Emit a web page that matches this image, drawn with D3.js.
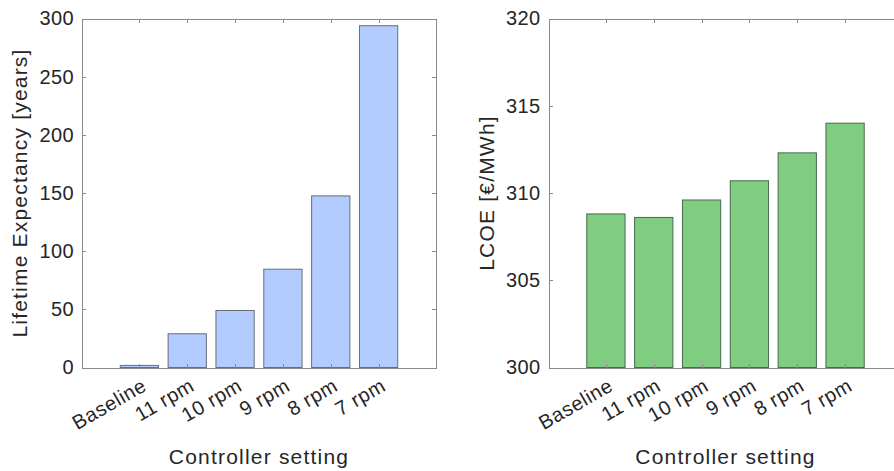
<!DOCTYPE html>
<html>
<head>
<meta charset="utf-8">
<script src="https://cdn.jsdelivr.net/npm/d3@7"></script>
<style>
  html, body { margin: 0; padding: 0; background: #fff; }
  svg { display: block; }
  text { font-family: "Liberation Sans", Arial, Helvetica, sans-serif; fill: #262626; }
</style>
</head>
<body>
<script>
// Controller settings and the two results per setting
const categories = ["Baseline", "11 rpm", "10 rpm", "9 rpm", "8 rpm", "7 rpm"];
const lifetimeYears = [1.8, 29, 49, 84.5, 147.5, 293.8];
const lcoeValues = [308.8, 308.6, 309.6, 310.7, 312.3, 314.0];
const lifetimeTicks = [0, 50, 100, 150, 200, 250, 300];
const lcoeTicks = [300, 305, 310, 315, 320];

const W = 894, H = 471;
const svg = d3.select("body").append("svg").attr("width", W).attr("height", H);

const axisColor = "#8a8a8a";

function panel(opts) {
  const { left, right, top, bottom, yDomain, ticks, values, fill, stroke, yLabel, yLabelX } = opts;
  const g = svg.append("g");
  // category index 1..n mapped on a continuous x scale with margins
  const x = d3.scaleLinear().domain([-0.2, categories.length + 1.2]).range([left, right]);
  const y = d3.scaleLinear().domain(yDomain).range([bottom, top]);
  const step = x(1) - x(0);
  const barW = step * 0.8;

  // bars
  g.selectAll("rect.bar").data(values).enter().append("rect")
    .attr("class", "bar")
    .attr("x", (d, i) => x(i + 1) - barW / 2)
    .attr("width", barW)
    .attr("y", d => y(d))
    .attr("height", d => y(yDomain[0]) - y(d))
    .attr("fill", fill)
    .attr("stroke", stroke)
    .attr("stroke-width", 1);

  const tickLen = 4;
  const xTickVals = categories.map((c, i) => i + 1);

  // bottom axis (inward ticks, rotated labels)
  const xb = g.append("g").attr("transform", `translate(0,${bottom})`)
    .call(d3.axisBottom(x).tickValues(xTickVals).tickSizeInner(-tickLen).tickSizeOuter(0).tickFormat(""));
  // top axis (mirrored ticks)
  const xt = g.append("g").attr("transform", `translate(0,${top})`)
    .call(d3.axisTop(x).tickValues(xTickVals).tickSizeInner(-tickLen).tickSizeOuter(0).tickFormat(""));
  // left axis
  const yl = g.append("g").attr("transform", `translate(${left},0)`)
    .call(d3.axisLeft(y).tickValues(ticks).tickSizeInner(-tickLen).tickSizeOuter(0).tickPadding(8));
  // right axis (mirrored ticks)
  const yr = g.append("g").attr("transform", `translate(${right},0)`)
    .call(d3.axisRight(y).tickValues(ticks).tickSizeInner(-tickLen).tickSizeOuter(0).tickFormat(""));

  [xb, xt, yl, yr].forEach(a => {
    a.select(".domain").attr("stroke", axisColor).attr("shape-rendering", "crispEdges");
    a.selectAll(".tick line").attr("stroke", axisColor).attr("shape-rendering", "crispEdges");
  });
  yl.selectAll(".tick text")
    .attr("font-size", 20).attr("fill", "#262626")
    .style("font-family", "'Liberation Sans', Arial, sans-serif")
    .style("letter-spacing", "0.4px");

  // rotated category labels
  g.selectAll("text.cat").data(categories).enter().append("text")
    .attr("class", "cat")
    .attr("text-anchor", "end")
    .attr("dominant-baseline", "central")
    .attr("font-size", 20)
    .style("letter-spacing", "0.6px")
    .attr("transform", (d, i) => `translate(${x(i + 1) + 5},${bottom + 16}) rotate(-30)`)
    .text(d => d);

  // axis titles
  g.append("text")
    .attr("x", (left + right) / 2).attr("y", bottom + 96)
    .attr("text-anchor", "middle").attr("font-size", 21)
    .style("letter-spacing", "1.2px")
    .text("Controller setting");

  g.append("text")
    .attr("transform", `translate(${yLabelX},${(top + bottom) / 2}) rotate(-90)`)
    .attr("text-anchor", "middle").attr("font-size", 21)
    .style("letter-spacing", "1.2px")
    .text(yLabel);
}

panel({
  left: 82, right: 436, top: 18.5, bottom: 367.5,
  yDomain: [0, 300], ticks: lifetimeTicks, values: lifetimeYears,
  fill: "#b3ccff", stroke: "#686d7a",
  yLabel: "Lifetime Expectancy [years]", yLabelX: 27
});

panel({
  left: 548.5, right: 548.5 + 354, top: 18.5, bottom: 367.5,
  yDomain: [300, 320], ticks: lcoeTicks, values: lcoeValues,
  fill: "#80cc80", stroke: "#456b4c",
  yLabel: "LCOE [€/MWh]", yLabelX: 494
});
</script>
</body>
</html>
